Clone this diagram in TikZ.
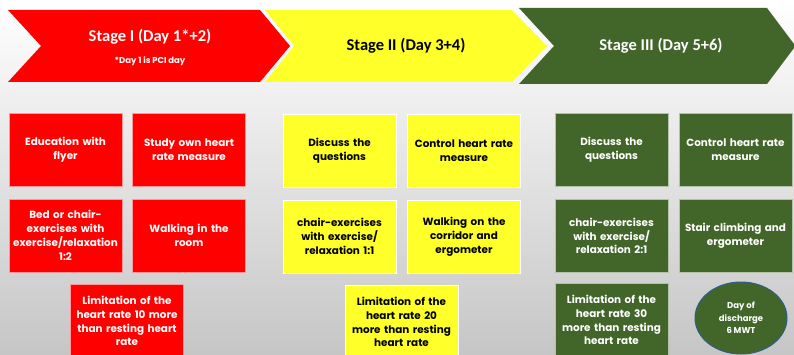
\documentclass[tikz,border=0pt]{standalone}
\usepackage{fontspec}
\setmainfont{Carlito}
\newfontfamily\boxfont{Poppins}
\usepackage{tikz}
\usetikzlibrary{shapes.geometric}

\definecolor{stagered}{HTML}{FF0000}
\definecolor{stageyellow}{HTML}{FFFF2A}
\definecolor{stagegreen}{HTML}{42652A}
\definecolor{ovalblue}{HTML}{2E5F8A}

\tikzset{
  taskbox/.style={rectangle, minimum width=113pt, minimum height=73pt,
    text width=112pt, align=center, inner sep=0.5pt,
    font=\boxfont\bfseries\fontsize{10.4}{13.8}\selectfont},
  redbox/.style={taskbox, fill=stagered, draw=stagered!40!white, line width=0.6pt, text=white},
  yellowbox/.style={taskbox, fill=stageyellow, draw=white, line width=0.6pt, text=black},
  greenbox/.style={taskbox, fill=stagegreen, draw=stagegreen!40!white, line width=0.6pt, text=white},
  stagetitle/.style={font=\bfseries\fontsize{16.5}{18}\selectfont}
}

\begin{document}
\begin{tikzpicture}[x=1pt,y=-1pt]
\useasboundingbox (0,0) rectangle (794,355);
\shade[top color=white, bottom color=gray!45] (0,0) rectangle (794,355);

% stage arrows
\fill[stagered] (8,10) -- (260,10) -- (290,46) -- (260,82) -- (8,82) -- (41,46) -- cycle;
\fill[stageyellow] (265,10) -- (512,10) -- (547,46) -- (512,82) -- (265,82) -- (294,46) -- cycle;
\fill[stagegreen] (519,8) -- (767,8) -- (794,44) -- (794,48) -- (767,84) -- (519,84) -- (554,46) -- cycle;

\node[stagetitle, text=white] (s1) at (150,37) {Stage I (Day 1*+2)};
\node[text=white, font=\boxfont\bfseries\fontsize{8.5}{9}\selectfont] (s1note) at (150,61) {*Day 1 is PCI day};
\node[stagetitle, text=black] (s2) at (406,46) {Stage II (Day 3+4)};
\node[stagetitle, text=white] (s3) at (661,46) {Stage III (Day 5+6)};

% stage I
\node[redbox] (r1) at (65.5,149.5) {Education with\\flyer};
\node[redbox] (r2) at (189,149.5) {Study own heart\\rate measure};
\node[redbox] (r3) at (65.5,235.5) {Bed or chair-\\exercises with\\exercise/relaxation\\1:2};
\node[redbox] (r4) at (189,235.5) {Walking in the\\room};
\node[redbox] (r5) at (127,321) {Limitation of the\\heart rate 10 more\\than resting heart\\rate};

% stage II
\node[yellowbox] (y1) at (339.5,150.5) {Discuss the\\questions};
\node[yellowbox] (y2) at (464,150.5) {Control heart rate\\measure};
\node[yellowbox] (y3) at (339.5,236.5) {chair-exercises\\with exercise/\\relaxation 1:1};
\node[yellowbox] (y4) at (464,236.5) {Walking on the\\corridor and\\ergometer};
\node[yellowbox] (y5) at (401.5,322) {Limitation of the\\heart rate 20\\more than resting\\heart rate};

% stage III
\node[greenbox] (g1) at (611.5,149.5) {Discuss the\\questions};
\node[greenbox] (g2) at (735.5,149.5) {Control heart rate\\measure};
\node[greenbox] (g3) at (611.5,236) {chair-exercises\\with exercise/\\relaxation 2:1};
\node[greenbox] (g4) at (735.5,236) {Stair climbing and\\ergometer};
\node[greenbox] (g5) at (611.5,320) {Limitation of the\\heart rate 30\\more than resting\\heart rate};
\node[ellipse, fill=stagegreen, draw=ovalblue, line width=1pt, minimum width=92pt, minimum height=72pt,
  inner sep=0pt, align=center, text=white, font=\boxfont\bfseries\fontsize{8.5}{12.5}\selectfont] (g6) at (741,318) {Day of\\discharge\\6 MWT};
\end{tikzpicture}
\end{document}
